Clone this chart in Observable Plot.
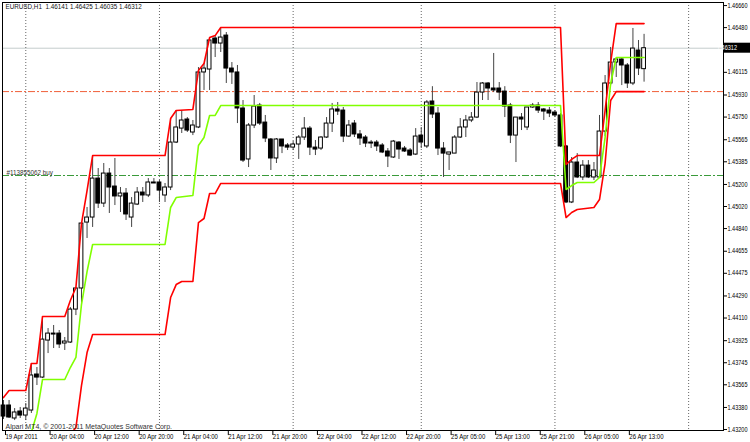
<!DOCTYPE html>
<html><head><meta charset="utf-8">
<script src="https://cdn.jsdelivr.net/npm/d3@7"></script>
<script src="https://cdn.jsdelivr.net/npm/@observablehq/plot@0.6"></script>
<style>html,body{margin:0;padding:0;background:#fff;}</style>
</head><body><div id="chart"></div>
<script>
const symbolTitle = "EURUSD,H1\u00a0\u00a01.46141 1.46425 1.46035 1.46312";
const copyright = "Alpari MT4, \u00a9 2001-2011 MetaQuotes Software Corp.";
const orderLabel = "#113855062 buy";

const open = [
1.43396,1.43396,1.43290,1.43347,1.43314,1.43355,1.43649,1.43624,1.43926,1.43975,
1.43983,1.43902,1.43910,1.44179,1.44351,1.44889,1.44930,1.45248,1.45044,1.45289,
1.45183,1.45102,1.45126,1.44930,1.45036,1.45134,1.45110,1.45208,1.45216,1.45110,
1.45175,1.45542,1.45656,1.45730,1.45624,1.45665,1.46114,1.46138,1.46391,1.46350,
1.46415,1.46146,1.46114,1.45820,1.45404,1.45681,1.45844,1.45705,1.45567,1.45412,
1.45567,1.45518,1.45501,1.45526,1.45583,1.45656,1.45501,1.45493,1.45583,1.45697,
1.45812,1.45803,1.45591,1.45697,1.45608,1.45583,1.45542,1.45542,1.45518,1.45469,
1.45420,1.45542,1.45493,1.45477,1.45444,1.45599,1.45510,1.45877,1.45779,1.45493,
1.45444,1.45452,1.45583,1.45665,1.45722,1.45746,1.45950,1.46024,1.45983,1.45983,
1.45958,1.45844,1.45599,1.45746,1.45665,1.45828,1.45844,1.45812,1.45803,1.45787,
1.45763,1.45510,1.45053,1.45379,1.45257,1.45354,1.45257,1.45257,1.45632,1.46024,
1.46195,1.46220,1.46171,1.46024,1.46293,1.46141];
const high = [
1.43437,1.43437,1.43371,1.43380,1.43412,1.43739,1.43706,1.44122,1.44024,1.44049,
1.44008,1.43951,1.44196,1.44359,1.44889,1.45012,1.45436,1.45330,1.45371,1.45330,
1.45412,1.45175,1.45167,1.45093,1.45175,1.45175,1.45248,1.45248,1.45232,1.45208,
1.45738,1.45803,1.45803,1.45746,1.45722,1.46154,1.46187,1.46399,1.46415,1.46481,
1.46440,1.46195,1.46171,1.45885,1.45697,1.45926,1.45861,1.45763,1.45575,1.45575,
1.45567,1.45534,1.45550,1.45599,1.45746,1.45673,1.45559,1.45591,1.45746,1.45861,
1.45869,1.45828,1.45722,1.45722,1.45640,1.45599,1.45559,1.45559,1.45534,1.45493,
1.45559,1.45550,1.45510,1.45493,1.45656,1.45665,1.45885,1.45998,1.45828,1.45542,
1.45461,1.45599,1.45738,1.45763,1.45787,1.46032,1.46032,1.46032,1.46269,1.46032,
1.45998,1.45861,1.45746,1.45779,1.45828,1.45861,1.45869,1.45820,1.45828,1.45803,
1.45779,1.45518,1.45420,1.45452,1.45395,1.45395,1.45379,1.45763,1.46089,1.46318,
1.46228,1.46236,1.46187,1.46473,1.46375,1.46425];
const low = [
1.43282,1.43290,1.43273,1.43290,1.43273,1.43331,1.43559,1.43616,1.43820,1.43861,
1.43861,1.43845,1.43902,1.44130,1.44228,1.44759,1.44849,1.45004,1.45012,1.44963,
1.45028,1.44971,1.44906,1.44849,1.45028,1.45053,1.45093,1.45208,1.45053,1.45053,
1.45150,1.45534,1.45616,1.45624,1.45599,1.45656,1.45967,1.45967,1.46236,1.46277,
1.46024,1.46016,1.45697,1.45379,1.45338,1.45656,1.45681,1.45542,1.45314,1.45371,
1.45452,1.45477,1.45477,1.45404,1.45559,1.45436,1.45436,1.45477,1.45575,1.45624,
1.45763,1.45542,1.45583,1.45583,1.45518,1.45501,1.45493,1.45469,1.45452,1.45338,
1.45412,1.45404,1.45461,1.45428,1.45436,1.45493,1.45493,1.45738,1.45436,1.45257,
1.45314,1.45452,1.45575,1.45583,1.45705,1.45738,1.45885,1.45885,1.45950,1.45885,
1.45746,1.45534,1.45379,1.45640,1.45640,1.45820,1.45779,1.45722,1.45746,1.45746,
1.45501,1.45044,1.45044,1.45248,1.45232,1.45248,1.45232,1.45248,1.45591,1.46007,
1.46073,1.46007,1.45983,1.46007,1.46089,1.46035];
const close = [
1.43306,1.43298,1.43339,1.43314,1.43371,1.43641,1.43624,1.43934,1.43983,1.43983,
1.43894,1.43918,1.44179,1.44351,1.44881,1.44930,1.45248,1.45044,1.45289,1.45175,
1.45102,1.45126,1.44955,1.45044,1.45134,1.45110,1.45216,1.45216,1.45150,1.45175,
1.45542,1.45665,1.45722,1.45640,1.45681,1.46114,1.46146,1.46375,1.46350,1.46399,
1.46146,1.46114,1.45820,1.45395,1.45681,1.45836,1.45697,1.45575,1.45412,1.45567,
1.45510,1.45501,1.45526,1.45583,1.45656,1.45501,1.45485,1.45583,1.45697,1.45812,
1.45795,1.45591,1.45681,1.45608,1.45575,1.45534,1.45534,1.45510,1.45461,1.45428,
1.45550,1.45485,1.45469,1.45436,1.45591,1.45542,1.45869,1.45771,1.45493,1.45452,
1.45461,1.45583,1.45665,1.45722,1.45746,1.45950,1.46024,1.45983,1.45967,1.45950,
1.45836,1.45599,1.45746,1.45730,1.45828,1.45844,1.45803,1.45795,1.45779,1.45763,
1.45510,1.45053,1.45379,1.45257,1.45354,1.45257,1.45314,1.45632,1.46024,1.46195,
1.46220,1.46171,1.46024,1.46309,1.46146,1.46312];

// channel lines: bar index of each vertex and its price
const upperBars = [0,1,4,5,6,7,11,12,13,14,15,16,29,30,31,34,35,36,37,38,39,100,101,102,103,107,108,109,110,115];
const upperPrices = [1.43461,1.43518,1.43518,1.43739,1.43739,1.44122,1.44122,1.44253,1.44359,1.44881,1.45150,1.45436,1.45436,1.45738,1.45803,1.45812,1.46130,1.46187,1.46399,1.46415,1.46481,1.46481,1.45363,1.45404,1.45436,1.45436,1.45803,1.46195,1.46513,1.46513];
const middleBars = [5,6,7,11,12,13,14,15,16,29,30,31,34,35,36,37,38,39,100,101,102,103,106,107,108,109,110,115];
const middlePrices = [1.43176,1.43331,1.43608,1.43608,1.43706,1.43788,1.44220,1.44489,1.44710,1.44710,1.45012,1.45093,1.45110,1.45518,1.45583,1.45763,1.45763,1.45844,1.45844,1.45159,1.45191,1.45216,1.45216,1.45257,1.45583,1.46024,1.46236,1.46236];
const lowerBars = [12,13,14,15,16,29,30,31,32,34,35,36,37,38,39,100,101,102,103,106,107,108,109,110,115];
const lowerPrices = [1.43159,1.43216,1.43559,1.43828,1.43975,1.43975,1.44277,1.44383,1.44408,1.44408,1.44889,1.44922,1.45126,1.45126,1.45208,1.45208,1.44930,1.44971,1.44995,1.45012,1.45077,1.45371,1.45885,1.45958,1.45958];

const bidPrice = 1.46312;
const stopPrice = 1.45958;
const orderPrice = 1.45273;

const daySeparators = [4, 28, 52, 75, 99, 123];
const tickBars = [0,8,16,24,32,40,48,56,64,72,80,88,96,104,112];
const tickLabels = ["19 Apr 2011","20 Apr 04:00","20 Apr 12:00","20 Apr 20:00","21 Apr 04:00","21 Apr 12:00","21 Apr 20:00","22 Apr 04:00","22 Apr 12:00","22 Apr 20:00","25 Apr 05:00","25 Apr 13:00","25 Apr 21:00","26 Apr 05:00","26 Apr 13:00"];
const yTicks = [1.46660,1.46480,1.46115,1.45930,1.45750,1.45565,1.45385,1.45200,1.45020,1.44840,1.44655,1.44475,1.44290,1.44110,1.43925,1.43745,1.43565,1.43380,1.43200];

const rows = open.map((o, i) => ({i, o, h: high[i], l: low[i], c: close[i]}));
const pts = (bars, prices) => bars.map((b, k) => ({i: b, p: prices[k]}));
const fmt = d3.format(".5f");

const chart = Plot.plot({
  width: 750, height: 442,
  marginLeft: 2, marginRight: 27, marginTop: 2, marginBottom: 12,
  style: {fontFamily: "'Liberation Sans', Arial, sans-serif", fontSize: "7px", background: "#fff", color: "#000"},
  x: {domain: [-0.18, 129.26], axis: null},
  y: {domain: [1.43192, 1.46685], axis: null},
  marks: [
    Plot.ruleY([bidPrice], {stroke: "#c4cccc"}),
    Plot.ruleY([stopPrice], {stroke: "#f0603a", strokeDasharray: "7,2,2,2"}),
    Plot.ruleY([orderPrice], {stroke: "#3a9a3a", strokeDasharray: "7,2,2,2"}),
    Plot.ruleX(daySeparators, {stroke: "#666", strokeDasharray: "1,2"}),
    Plot.ruleX(rows, {x: "i", y1: "l", y2: "h", stroke: "#444"}),
    Plot.rect(rows, {x1: d => d.i - 0.34, x2: d => d.i + 0.34, y1: "o", y2: "c",
      fill: d => d.c >= d.o ? "#ffffff" : "#000000", stroke: "#000"}),
    Plot.line(pts(upperBars, upperPrices), {x: "i", y: "p", stroke: "#ff0000", strokeWidth: 1.6, clip: true}),
    Plot.line(pts(lowerBars, lowerPrices), {x: "i", y: "p", stroke: "#ff0000", strokeWidth: 1.6, clip: true}),
    Plot.line(pts(middleBars, middlePrices), {x: "i", y: "p", stroke: "#80ff00", strokeWidth: 1.6, clip: true}),
    Plot.axisX({ticks: tickBars, tickFormat: d => tickLabels[tickBars.indexOf(d)], anchor: "bottom",
      tickSize: 5, tickPadding: -1, textAnchor: "start", dx: 2, label: null}),
    Plot.axisY({anchor: "right", ticks: yTicks, tickFormat: fmt, tickSize: 3, tickPadding: 1, label: null, fontSize: 6.5}),
    Plot.frame({stroke: "#000"}),
    Plot.text([symbolTitle], {frameAnchor: "top-left", dx: 3, dy: 2, textAnchor: "start", lineAnchor: "top", fill: "#111"}),
    Plot.text([orderPrice], {y: d => d, text: () => orderLabel, frameAnchor: "left", dx: 4, dy: -1, lineAnchor: "bottom", textAnchor: "start", fill: "#333"}),
    Plot.text([copyright], {frameAnchor: "bottom-left", dx: 3, dy: -2, lineAnchor: "bottom", textAnchor: "start", fill: "#333"})
  ]
});

const svg = d3.select(chart);
const yb = chart.scale("y").apply(bidPrice);
const xr = chart.scale("x").range[1];
svg.append("rect").attr("x", xr + 1).attr("y", yb - 5).attr("width", 750 - xr - 1).attr("height", 10).attr("fill", "#000");
const bidText = svg.append("text").attr("x", xr + 4).attr("y", yb).attr("dy", "0.32em").attr("fill", "#fff")
  .attr("font-size", "6.5px").text(fmt(bidPrice));

document.getElementById("chart").appendChild(chart);

// narrow the text like the terminal's condensed font
function squeeze(sel, factor, fixed) {
  sel.each(function () {
    const w = this.getComputedTextLength();
    if (w > 0) {
      this.setAttribute("textLength", (fixed ? Math.min(w, fixed) : w * factor).toFixed(2));
      this.setAttribute("lengthAdjust", "spacingAndGlyphs");
    }
  });
}
squeeze(svg.selectAll('g[aria-label="y-axis tick label"] text'), 1, 20);
squeeze(bidText, 1, 20);
squeeze(svg.selectAll('g[aria-label="x-axis tick label"] text'), 0.86);
svg.selectAll('g[aria-label="text"] text').each(function () {
  if (this.textContent !== copyright) squeeze(d3.select(this), 0.9);
});
</script>
</body></html>
